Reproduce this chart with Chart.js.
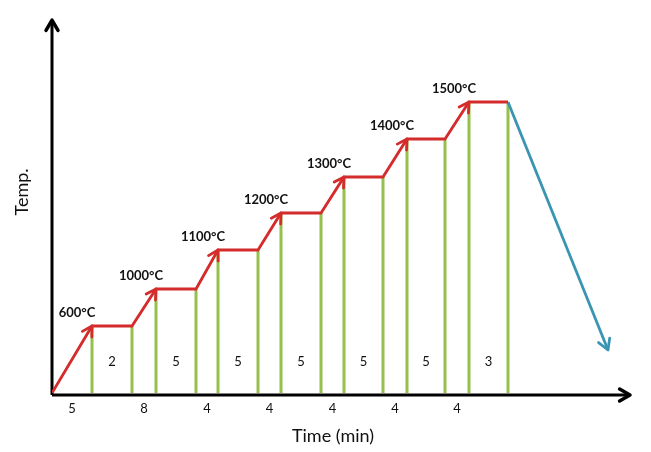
<!DOCTYPE html>
<html>
<head>
<meta charset="utf-8">
<script src="https://cdn.jsdelivr.net/npm/chart.js@4/dist/chart.umd.min.js"></script>
<style>
  html, body { margin: 0; background: #fff; }
</style>
</head>
<body>
<canvas id="c" width="651" height="452"></canvas>
<script>
// Heating schedule (schematic, not to scale)
const tempLabels = ["600°C", "1000°C", "1100°C", "1200°C", "1300°C", "1400°C", "1500°C"];
const rampMin = [5, 8, 4, 4, 4, 4, 4];
const holdMin = [2, 5, 5, 5, 5, 5, 3];
const holdStart = [40, 104, 166, 229, 292, 355, 417];
const holdEnd = [80, 144, 206, 269, 331, 393, 456];
const levels = [67, 104, 143, 180, 216, 254, 291];
const coolEnd = { x: 556, y: 43 };

const RED = "#d42b2b", GREEN = "#95c04f", BLUE = "#3a95b3";
const FONT = "Lato, 'Open Sans', sans-serif";

const heatPts = [{ x: 0, y: 0 }];
holdStart.forEach((x, i) => {
  heatPts.push({ x, y: levels[i] });
  heatPts.push({ x: holdEnd[i], y: levels[i] });
});
const lastEnd = heatPts[heatPts.length - 1];
const coolPts = [lastEnd, coolEnd];

const greenPts = [];
holdStart.forEach((x, i) => {
  [x, holdEnd[i]].forEach((gx) => {
    greenPts.push({ x: gx, y: 0 }, { x: gx, y: levels[i] }, { x: gx, y: null });
  });
});

function arrowHead(ctx, x0, y0, x1, y1, len, color, w) {
  const a = Math.atan2(y1 - y0, x1 - x0);
  const sp = Math.PI / 6;
  ctx.save();
  ctx.strokeStyle = color;
  ctx.lineWidth = w;
  ctx.lineCap = "round";
  ctx.lineJoin = "round";
  ctx.beginPath();
  ctx.moveTo(x1 - len * Math.cos(a - sp), y1 - len * Math.sin(a - sp));
  ctx.lineTo(x1, y1);
  ctx.lineTo(x1 - len * Math.cos(a + sp), y1 - len * Math.sin(a + sp));
  ctx.stroke();
  ctx.restore();
}

const decor = {
  id: "decor",
  beforeDatasetsDraw(chart) {
    const { ctx, chartArea: a } = chart;
    ctx.save();
    ctx.strokeStyle = "#000";
    ctx.lineWidth = 3;
    ctx.beginPath();
    ctx.moveTo(a.left, a.bottom + 2);
    ctx.lineTo(a.left, a.top);
    ctx.moveTo(a.left, a.bottom + 2);
    ctx.lineTo(a.right, a.bottom + 2);
    ctx.stroke();
    ctx.restore();
    arrowHead(ctx, a.left, a.bottom, a.left, a.top, 12, "#000", 3.5);
    arrowHead(ctx, a.left, a.bottom + 2, a.right, a.bottom + 2, 12, "#000", 3.5);
  },
  afterDatasetsDraw(chart) {
    const { ctx, chartArea: a, scales: { x, y } } = chart;
    // arrowheads at the end of each ramp
    holdStart.forEach((hx, i) => {
      const px = i === 0 ? 0 : holdEnd[i - 1];
      const py = i === 0 ? 0 : levels[i - 1];
      arrowHead(ctx, x.getPixelForValue(px), y.getPixelForValue(py),
        x.getPixelForValue(hx), y.getPixelForValue(levels[i]), 11, RED, 2.8);
    });
    arrowHead(ctx, x.getPixelForValue(lastEnd.x), y.getPixelForValue(lastEnd.y),
      x.getPixelForValue(coolEnd.x), y.getPixelForValue(coolEnd.y), 12, BLUE, 2.8);

    ctx.save();
    ctx.fillStyle = "#111";
    ctx.textAlign = "center";
    ctx.textBaseline = "middle";
    ctx.font = "bold 13px " + FONT;
    tempLabels.forEach((t, i) => {
      ctx.fillText(t, x.getPixelForValue(holdStart[i]) - 15, y.getPixelForValue(levels[i]) - 13);
    });
    ctx.font = "13px " + FONT;
    holdMin.forEach((m, i) => {
      ctx.fillText(String(m), x.getPixelForValue((holdStart[i] + holdEnd[i]) / 2), a.bottom - 31);
    });
    rampMin.forEach((m, i) => {
      const px = i === 0 ? 0 : holdEnd[i - 1];
      ctx.fillText(String(m), x.getPixelForValue((px + holdStart[i]) / 2), a.bottom + 16);
    });
    ctx.font = "18px " + FONT;
    ctx.fillText("Time (min)", 333, 436);
    ctx.translate(22, 192);
    ctx.rotate(-Math.PI / 2);
    ctx.fillText("Temp.", 0, 0);
    ctx.restore();
  },
};

new Chart(document.getElementById("c"), {
  type: "scatter",
  data: {
    datasets: [
      { data: heatPts, showLine: true, borderColor: RED, borderWidth: 2.8, pointRadius: 0, order: 0 },
      { data: coolPts, showLine: true, borderColor: BLUE, borderWidth: 2.8, pointRadius: 0, order: 1 },
      { data: greenPts, showLine: true, spanGaps: false, borderColor: GREEN, borderWidth: 3, pointRadius: 0, order: 2 },
    ],
  },
  options: {
    responsive: false,
    animation: false,
    layout: { padding: { left: 52, right: 21, top: 20, bottom: 59 } },
    scales: {
      x: { type: "linear", min: 0, max: 578, display: false },
      y: { type: "linear", min: 0, max: 373, display: false },
    },
    plugins: { legend: { display: false }, tooltip: { enabled: false } },
  },
  plugins: [decor],
});
</script>
</body>
</html>
